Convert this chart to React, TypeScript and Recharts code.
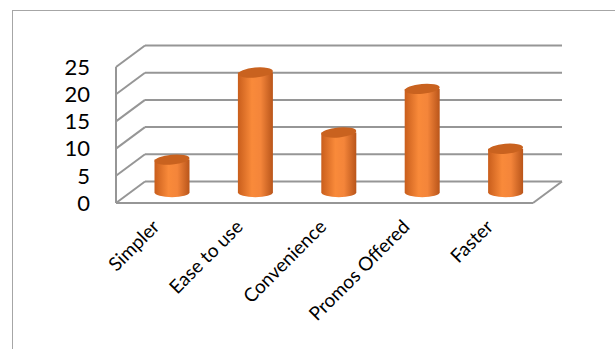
import { BarChart, Bar, XAxis, YAxis, CartesianGrid } from "recharts";

const categories = ["Simpler", "Ease to use", "Convenience", "Promos Offered", "Faster"];
const responses = [6, 22, 11, 19, 8];
const yTicks = [0, 5, 10, 15, 20, 25];

const data = categories.map((name, i) => ({ name, value: responses[i] }));

// depth of the fake 3D box (front plane -> back wall)
const DEPTH_X = 29;
const DEPTH_Y = 21.5;
const PLOT_BOTTOM = 203;
const GRID = "#969696";
const FONT = "Lato, 'Open Sans', sans-serif";

function GridLine(props: any) {
  const { x1, y1, x2, key } = props;
  const isFloor = Math.abs(y1 - PLOT_BOTTOM) < 1;
  return (
    <g key={key}>
      <line x1={x1} y1={y1} x2={x1 + DEPTH_X} y2={y1 - DEPTH_Y} stroke={GRID} strokeWidth={2} />
      <line
        x1={x1 + DEPTH_X}
        y1={y1 - DEPTH_Y}
        x2={x2 + DEPTH_X}
        y2={y1 - DEPTH_Y}
        stroke={GRID}
        strokeWidth={2}
      />
      {isFloor && (
        <line x1={x2} y1={y1} x2={x2 + DEPTH_X} y2={y1 - DEPTH_Y} stroke={GRID} strokeWidth={2} />
      )}
    </g>
  );
}

function Cylinder(props: any) {
  const { x, y, width, height } = props;
  const cx = x + DEPTH_X / 2;
  const top = y - DEPTH_Y / 2;
  const bottom = top + height;
  const rx = width / 2;
  const ry = 5;
  return (
    <g>
      <path
        d={`M${cx},${top} L${cx},${bottom} A${rx},${ry} 0 0 0 ${cx + width},${bottom} L${cx + width},${top} Z`}
        fill="url(#cylBody)"
      />
      <ellipse
        cx={cx + rx}
        cy={top}
        rx={rx}
        ry={ry}
        fill="#c9621f"
        transform={`rotate(-5 ${cx + rx} ${top})`}
      />
    </g>
  );
}

function CategoryTick(props: any) {
  const { x, y, payload } = props;
  const tx = x + 3;
  const ty = y + 17;
  return (
    <text
      x={tx}
      y={ty}
      textAnchor="end"
      transform={`rotate(-45 ${tx} ${ty})`}
      fontFamily={FONT}
      fontSize={19}
      fill="#000"
    >
      {payload.value}
    </text>
  );
}

export default function App() {
  return (
    <div style={{ position: "fixed", left: 0, top: 0, width: 615, height: 349, background: "#fff" }}>
      <div
        style={{
          position: "absolute",
          left: 12,
          top: 10,
          width: 640,
          height: 360,
          border: "1.5px solid #a6a6a6",
        }}
      />
      <BarChart
        width={615}
        height={349}
        data={data}
        margin={{ top: 67, right: 82, bottom: 116, left: 0 }}
        barSize={35}
        style={{ position: "absolute", left: 0, top: 0 }}
      >
        <defs>
          <linearGradient id="cylBody" x1="0" y1="0" x2="1" y2="0">
            <stop offset="0%" stopColor="#c95e1c" />
            <stop offset="40%" stopColor="#f98a3a" />
            <stop offset="65%" stopColor="#f4853a" />
            <stop offset="100%" stopColor="#b9551a" />
          </linearGradient>
        </defs>
        <CartesianGrid vertical={false} horizontal={GridLine} />
        <XAxis
          dataKey="name"
          interval={0}
          height={30}
          tickLine={false}
          axisLine={{ stroke: GRID, strokeWidth: 2 }}
          tick={<CategoryTick />}
        />
        <YAxis
          width={116}
          domain={[0, 25]}
          ticks={yTicks}
          interval={0}
          tickLine={false}
          tickSize={0}
          tickMargin={26}
          axisLine={{ stroke: GRID, strokeWidth: 2 }}
          tick={{ fontFamily: FONT, fontSize: 22, fill: "#000" }}
        />
        <Bar dataKey="value" shape={<Cylinder />} isAnimationActive={false} />
      </BarChart>
    </div>
  );
}
